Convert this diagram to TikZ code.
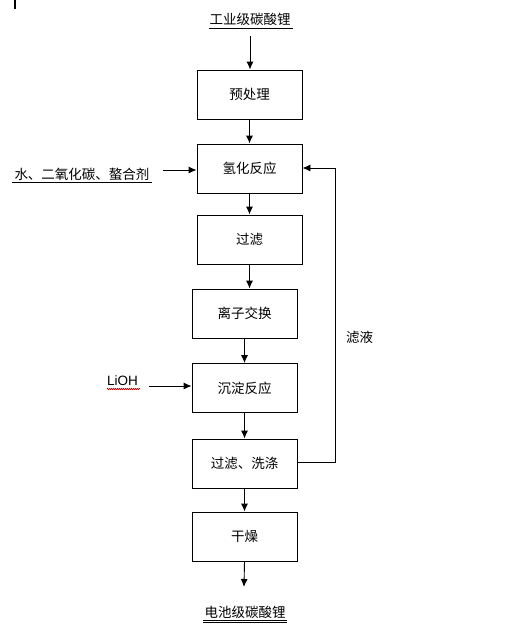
\documentclass[tikz,border=0pt]{standalone}
\usepackage{fontspec}
\setmainfont{Liberation Sans}
\newfontfamily\cjk{Noto Sans CJK SC}
\usetikzlibrary{arrows.meta,decorations.pathmorphing}
\begin{document}
\begin{tikzpicture}[x=1pt,y=-1pt,
  proc/.style={draw,line width=0.9pt,minimum width=105pt,minimum height=49pt,inner sep=0pt,font=\cjk\fontsize{13.5}{16}\selectfont},
  lbl/.style={inner sep=0pt,font=\cjk\fontsize{13.5}{16}\selectfont},
  flow/.style={line width=0.9pt,-{Latex[length=8pt,width=7pt]}},
  fb/.style={line width=0.9pt}]
\useasboundingbox (0,0) rectangle (531,641);
\fill (14,0) rectangle (16,9);
% boxes
\node[proc] (b1) at (249.5,94.5) {预处理};
\node[proc] (b2) at (249.5,168.5) {氢化反应};
\node[proc] (b3) at (249.5,239.5) {过滤};
\node[proc] (b4) at (244.5,313.5) {离子交换};
\node[proc] (b5) at (244.5,388) {沉淀反应};
\node[proc] (b6) at (244.5,463.5) {过滤、洗涤};
\node[proc] (b7) at (244.5,536.5) {干燥};
% labels
\node[lbl] (top) at (250,19) {工业级碳酸锂};
\draw[line width=0.8pt] (top.south west)++(0,3) -- ++(84,0);
\node[lbl] (left) at (82,174) {水、二氧化碳、螯合剂};
\draw[line width=0.8pt] (12,182) -- (152,182);
\node[inner sep=0pt,font=\fontsize{13.5}{15}\selectfont,anchor=base west] (lioh) at (107,385) {LiOH};
\draw[red!80!black,line width=0.6pt,decorate,decoration={zigzag,segment length=2pt,amplitude=0.7pt}] (107,389) -- (140,389);
\node[lbl] (bot) at (245,612) {电池级碳酸锂};
\draw[line width=0.8pt] (203,620) -- (287,620);
\draw[line width=0.8pt] (203,622.5) -- (287,622.5);
\node[lbl] (fl) at (359.5,337) {滤液};
% coordinates
\coordinate (ta) at (250,36);
\coordinate (la) at (163,170);
\coordinate (lb) at (149,386);
\coordinate (ba) at (244,587);
\coordinate (c1) at (335,462);
\coordinate (c2) at (335,168);
% flows
\draw[flow] (ta) -- (b1.north -| ta);
\draw[flow] (b1) -- (b2);
\draw[flow] (b2) -- (b3);
\draw[flow] (b3.south) -- (b3.south |- b4.north);
\draw[flow] (b4) -- (b5);
\draw[flow] (b5) -- (b6);
\draw[flow] (b6) -- (b7);
\draw[flow] (b7.south) -- (ba);
\draw[flow] (la) -- (la -| b2.west);
\draw[flow] (lb) -- (lb -| b5.west);
\draw[flow] (c1 -| b6.east) -- (c1) -- (c2) -- (c2 -| b2.east);
\end{tikzpicture}
\end{document}
